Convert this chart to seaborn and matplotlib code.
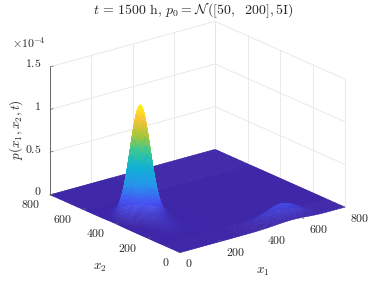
import numpy as np
import matplotlib
matplotlib.use('Agg')
import matplotlib.pyplot as plt
import seaborn as sns
from matplotlib.colors import LinearSegmentedColormap, Normalize
from mpl_toolkits.mplot3d import proj3d

sns.set_theme(style='white')
plt.rcParams['mathtext.fontset'] = 'cm'
plt.rcParams['font.family'] = ['DejaVu Serif']

# tick labels
x_ticks = [0, 200, 400, 600, 800]
z_ticks = [0, 0.5e-4, 1e-4, 1.5e-4]
z_labels = ['0', '0.5', '1', '1.5']

# profiles (5 unit steps under the tall peak)
main_x1_start = 0
main_x1 = [.0029, .0045, .0068, .0103, .0152, .022, .0314, .044, .0606, .082, .109, .142, .183, .232, .288, .351, .421,
           .496, .575, .654, .732, .805, .871, .925, .966, .991, 1,
           .991, .966, .925, .871, .805, .732, .654, .575, .496, .421, .351, .288, .232, .183, .142, .109, .082, .0606,
           .044, .0314, .022, .0152, .0103, .0068, .0045, .0029, .0018, .0011, .0007, .0004, .0002, .0001]
main_x2_start = 110
main_x2 = [.0005, .0007, .001, .0015, .002, .0025, .003, .0035, .004, .005, .006, .007, .008, .0095, .011, .0125, .014,
           .0155, .017, .0185, .02, .0215, .023, .0245, .026, .028, .03, .0325, .035, .0375, .04, .0425, .045, .0475,
           .05, .054, .058, .062, .067, .073, .08, .089, .1, .115, .135, .165, .2, .245, .3, .36, .43, .505, .585, .665,
           .74, .81, .875, .925, .966, .991, 1,
           .991, .966, .925, .871, .805, .732, .654, .575, .496, .421, .351, .288, .232, .183, .142, .109, .082, .0606,
           .044, .0314, .022, .0152, .0103, .0068, .0045, .0029, .0018, .0011, .0007, .0004, .0002, .0001]
main_height = 1.3e-4

bump_x1_start = 300
bump_x1 = [.0025, .004, .007, .012, .019, .029, .043, .062, .087, .12, .16, .21, .27, .33, .41, .48, .56, .64,
           .72, .79, .85, .91, .95, .98, 1, .98, .95, .91, .85, .78, .7, .61, .52, .43, .34, .26, .19, .13, .08, .05, .03, .015, .006]
bump_x2_start = 0
bump_x2 = [.14, .25, .41, .61, .8, .94, 1, .94, .8, .61, .41, .25, .19, .14, .10, .07, .045, .03, .02, .012, .007, .004]
bump_height = 0.16e-4

# parula
parula = LinearSegmentedColormap.from_list('parula', [
    (0.2422, 0.1504, 0.6603), (0.2810, 0.3228, 0.9579), (0.1540, 0.5902, 0.9218), (0.0689, 0.6948, 0.8394),
    (0.2161, 0.7843, 0.5923), (0.6720, 0.7793, 0.2227), (0.9970, 0.7659, 0.2199), (0.9769, 0.9839, 0.0805)])


def profile(values, start, grid):
    out = np.zeros(len(grid))
    idx = np.searchsorted(grid, start)
    out[idx:idx + len(values)] = values
    return out


x1 = np.r_[np.arange(0, 300, 5), np.arange(300, 801, 10)]
x2 = np.r_[np.arange(0, 110, 10), np.arange(110, 580, 5), np.arange(580, 801, 10)]
X1, X2 = np.meshgrid(x1, x2)
Z = main_height * np.outer(profile(main_x2, main_x2_start, x2), profile(main_x1, main_x1_start, x1)) \
    + bump_height * np.outer(profile(bump_x2, bump_x2_start, x2), profile(bump_x1, bump_x1_start, x1))

fig = plt.figure(figsize=(3.79, 2.85), dpi=100)
S = 400
ax = fig.add_axes([-7.9 / 379, -57.4 / 285, S / 379, S / 285], projection='3d')
ax.set_proj_type('ortho')
ax.view_init(elev=20.5, azim=-128.2)
ax.set_box_aspect((210, 210, 136.6), zoom=317.4 / S)
ax.set_axis_off()
ax.computed_zorder = False
ax.set_xlim(0, 800)
ax.set_ylim(0, 800)
ax.set_zlim(0, 1.5e-4)

grid_c = '#e6e6e6'
for t in x_ticks:
    ax.plot([t, t], [800, 800], [0, 1.5e-4], color=grid_c, lw=0.6, zorder=1)
    ax.plot([800, 800], [t, t], [0, 1.5e-4], color=grid_c, lw=0.6, zorder=1)
for z in z_ticks:
    ax.plot([0, 800], [800, 800], [z, z], color=grid_c, lw=0.6, zorder=1)
    ax.plot([800, 800], [0, 800], [z, z], color=grid_c, lw=0.6, zorder=1)

colors = parula(Normalize(0, Z.max())(Z))
surf = ax.plot_surface(X1, X2, Z, facecolors=colors, rcount=len(x2), ccount=len(x1), shade=False,
                       linewidth=0.3, antialiased=True, zorder=2)
surf.set_edgecolor(colors[:-1, :-1].reshape(-1, 4))

txt = '#262626'
axis_c = '#666666'
ax.plot([0, 0], [800, 800], [0, 1.5e-4], color=axis_c, lw=0.7, zorder=3)


def note(x, y, z, s, dx, dy, size=8.5, **kw):
    px, py, _ = proj3d.proj_transform(x, y, z, ax.get_proj())
    ax.annotate(s, xy=(px, py), xytext=(dx * 0.72, dy * 0.72), textcoords='offset points',
                color=txt, fontsize=size, ha=kw.pop('ha', 'center'), va='center', **kw)


for t in x_ticks:
    ax.plot([t, t], [0, 16], [0, 0], color=axis_c, lw=0.5, zorder=3)
    ax.plot([0, 16], [t, t], [0, 0], color=axis_c, lw=0.5, zorder=3)
    note(t, 0, 0, '$%d$' % t, 5, -11, ha='left')
    note(0, t, 0, '$%d$' % t, -10, -10, ha='right')
for z, lab in zip(z_ticks, z_labels):
    ax.plot([0, 16], [800, 800], [z, z], color=axis_c, lw=0.5, zorder=3)
    note(0, 800, z, '$%s$' % lab, -9, 3, ha='right')

fig.text(193 / 379, 1 - 10 / 285, r'$t\,=\,1500\ \mathrm{h},\,p_0=\mathcal{N}\,([50,\ \ 200],5\mathrm{I})$',
         ha='center', va='center', fontsize=10, color=txt)
fig.text(29 / 379, 1 - 43 / 285, r'$\times 10^{-4}$', ha='center', va='center', fontsize=8.5, color=txt)
fig.text(263 / 379, 1 - 271 / 285, r'$x_1$', ha='center', va='center', fontsize=9.5, color=txt)
fig.text(100 / 379, 1 - 268 / 285, r'$x_2$', ha='center', va='center', fontsize=9.5, color=txt)
fig.text(16 / 379, 1 - 130 / 285, r'$p(x_1,x_2,t)$', ha='center', va='center', fontsize=9.5, color=txt, rotation=90)

fig.savefig('out.png', dpi=100)
